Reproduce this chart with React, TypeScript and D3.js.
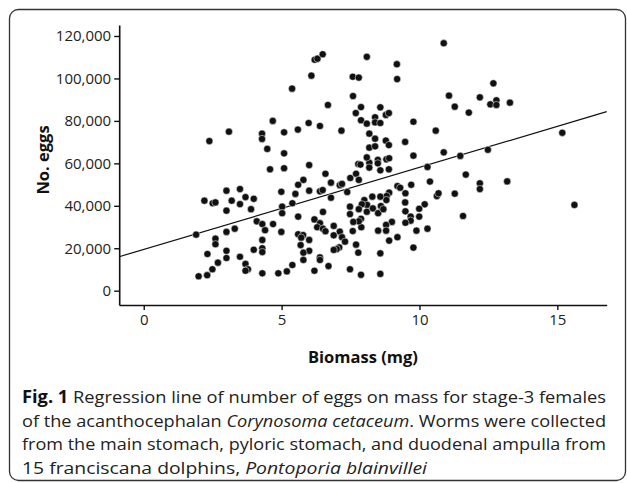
import { useEffect, useRef } from 'react'
import * as d3 from 'd3'

// biomass (mg) of each female
const biomass = [
  2.38, 3.09, 4.29, 4.29, 4.48, 4.68,
  4.58, 2.2, 2.5, 2.6, 3.0, 3.49, 3.19, 3.69, 3.99, 3.0, 3.49, 3.89, 4.1, 4.3, 4.4, 4.69,
  1.9, 3.0, 3.3, 2.6, 2.6, 3.0, 2.31, 2.69, 3.0, 3.49, 3.69, 3.78, 3.69, 2.49, 2.3, 1.99,
  4.3, 4.88, 3.99, 4.3, 4.3, 4.3,
  5.38, 6.08, 6.2, 6.3, 6.49, 6.68, 5.09, 5.59, 5.98, 6.39, 7.17, 7.58, 7.8, 8.09, 7.59,
  7.88, 7.69, 7.88, 8.09, 8.39, 8.39, 8.58, 8.58, 8.78, 8.89, 8.18, 8.39, 8.18, 8.39,
  8.78, 8.89, 9.18, 9.19, 9.78, 9.48, 10.59,
  5.09, 6.0, 5.09, 6.59, 5.79, 5.6, 5.5, 6.0, 4.99, 6.39, 6.49, 6.79, 7.11, 7.19, 7.38,
  6.79, 7.49, 7.7, 7.8, 7.78, 7.86, 8.18, 8.18, 8.09, 8.49, 8.49, 8.8, 8.9, 8.58, 8.89,
  9.78, 10.29, 10.38, 9.7, 9.2, 9.3, 9.49, 10.63, 10.69, 8.9, 8.81, 8.8, 8.58, 8.29, 8.0,
  8.1, 7.91, 7.8, 8.09, 7.48, 7.48, 8.31, 8.5, 8.6, 8.69, 9.48, 9.49, 10.19, 9.99, 9.99,
  9.68, 9.68, 9.49, 9.0, 8.79, 8.5, 8.79, 7.89, 7.88, 7.8, 7.6, 7.58, 9.2, 8.9, 9.89,
  10.29, 9.78, 7.7, 7.78, 8.58, 7.48, 7.88, 8.58, 6.5, 5.6, 6.19, 6.39, 6.29, 6.5, 6.59,
  6.89, 7.11, 6.89, 7.19, 7.3, 7.09, 7.0, 6.89, 6.39, 6.39, 6.7, 6.19, 5.6, 5.78, 5.71,
  6.0, 5.69, 6.0, 5.79, 5.79, 5.39, 5.19, 4.99, 5.02, 5.02, 5.39,
  10.88, 11.07, 11.28, 11.79, 12.19, 12.68, 12.57, 12.79, 12.79, 13.28, 15.18, 10.88,
  11.48, 12.48,
  11.68, 12.19, 12.19, 13.18, 11.28, 11.58, 15.62,
]

// number of eggs, same order as biomass
const eggs = [
  70500, 74900, 74000, 71500, 66800, 80000,
  57200, 42400, 41200, 41600, 47100, 47900, 42400, 44100, 43300, 37700, 40800, 38400, 32700, 31400, 28500, 31400,
  26400, 27700, 29200, 24500, 21900, 18800, 17300, 13200, 15400, 16000, 12600, 10100, 9400, 10100, 7300, 6800,
  8200, 8200, 19300, 23900, 20000, 18200,
  95200, 101300, 108800, 109300, 111400, 87500, 74600, 75900, 79000, 77600, 75400, 100800, 100400, 110200, 91700,
  86500, 83700, 80300, 78700, 81700, 79300, 86400, 79000, 82800, 83700, 74000, 71600, 67400, 68000,
  70700, 68600, 106700, 99700, 79600, 70100, 75400,
  64700, 59200, 57700, 55100, 52200, 49900, 45600, 47100, 46600, 46800, 47400, 50900, 49700, 50300, 46500,
  43800, 53100, 55100, 52200, 59700, 59400, 60300, 58000, 62800, 61600, 60000, 61900, 62400, 56700, 57200,
  63600, 58300, 51400, 49900, 49300, 48500, 45900, 44600, 45900, 46200, 44600, 42700, 44300, 44300, 42700,
  40400, 40700, 38400, 37200, 39600, 36100, 38800, 36500, 39900, 38400, 41600, 37400, 40700, 38600, 34900,
  34900, 33000, 32000, 32400, 31000, 28300, 28300, 29900, 33900, 32700, 32400, 28100, 25200, 23600, 28300,
  29200, 20300, 21700, 17900, 17600, 10100, 7500, 7900, 37100, 34900, 33600, 31800, 29900, 29200, 28000,
  30500, 27800, 26100, 25200, 23100, 20400, 19600, 19200, 15700, 14500, 11600, 9400, 26600, 26200, 25000,
  23900, 21500, 18800, 17900, 14500, 12100, 9100, 27700, 39600, 36500, 41200,
  116600, 91900, 86700, 83900, 91100, 97700, 87800, 89700, 87500, 88600, 74400, 65200,
  63500, 66400,
  54700, 50600, 47900, 51500, 45700, 35200, 40400,
]

const xTicks = [0, 5, 10, 15]
const yTicks = [0, 20000, 40000, 60000, 80000, 100000, 120000]

// fitted regression: eggs = a + b * biomass
const regIntercept = 19450
const regSlope = 3865

const captionLines = [
  [{ t: 'Fig. 1', w: 'bold', s: 'normal' }, { t: ' Regression line of number of eggs on mass for stage-3 females', w: 'normal', s: 'normal' }],
  [{ t: 'of the acanthocephalan ', w: 'normal', s: 'normal' }, { t: 'Corynosoma cetaceum', w: 'normal', s: 'italic' }, { t: '. Worms were collected', w: 'normal', s: 'normal' }],
  [{ t: 'from the main stomach, pyloric stomach, and duodenal ampulla from', w: 'normal', s: 'normal' }],
  [{ t: '15 franciscana dolphins, ', w: 'normal', s: 'normal' }, { t: 'Pontoporia blainvillei', w: 'normal', s: 'italic' }],
]
const captionWidths = [584, 584, 584, 405]

const FONT = '"Open Sans", "DejaVu Sans", sans-serif'

export default function App() {
  const ref = useRef<SVGSVGElement>(null)

  useEffect(() => {
    const W = 627
    const H = 483
    const svg = d3.select(ref.current)
    svg.selectAll('*').remove()
    svg.attr('width', W).attr('height', H).attr('viewBox', `0 0 ${W} ${H}`)

    // panel frame
    svg.append('rect')
      .attr('x', 9.5).attr('y', 9.5).attr('width', 616).attr('height', 471)
      .attr('rx', 9).attr('fill', 'none').attr('stroke', '#333').attr('stroke-width', 1.3)

    const x = d3.scaleLinear().domain([-0.89, 16.79]).range([119.2, 606.7])
    const y = d3.scaleLinear().domain([-6740, 125180]).range([305, 25])

    const xAxis = svg.append('g')
      .attr('transform', `translate(0,${y.range()[0]})`)
      .call(d3.axisBottom(x).tickValues(xTicks).tickSize(5).tickSizeOuter(0).tickPadding(4).tickFormat(d3.format('d')))
    const yAxis = svg.append('g')
      .attr('transform', `translate(${x.range()[0]},0)`)
      .call(d3.axisLeft(y).tickValues(yTicks).tickSize(5).tickSizeOuter(0).tickPadding(3).tickFormat(d3.format(',')))

    ;[xAxis, yAxis].forEach(g => {
      g.select('.domain').attr('stroke', '#111').attr('stroke-width', 1.6)
      g.selectAll('.tick line').attr('stroke', '#111').attr('stroke-width', 1.4)
      g.selectAll('.tick text')
        .attr('fill', '#222')
        .style('font-family', FONT)
        .style('font-size', '15px')
    })

    // axis titles
    svg.append('text')
      .attr('x', x(Number(d3.mean(x.domain())))).attr('y', 363)
      .attr('text-anchor', 'middle')
      .style('font-family', FONT).style('font-size', '16.5px').style('font-weight', 'bold')
      .attr('fill', '#111')
      .text('Biomass (mg)')
    svg.append('text')
      .attr('transform', 'translate(49,160) rotate(-90)')
      .attr('text-anchor', 'middle')
      .style('font-family', FONT).style('font-size', '16.5px').style('font-weight', 'bold')
      .attr('fill', '#111')
      .text('No. eggs')

    // regression line
    const [x0, x1] = x.domain()
    svg.append('line')
      .attr('x1', x(x0)).attr('y1', y(regIntercept + regSlope * x0))
      .attr('x2', x(x1)).attr('y2', y(regIntercept + regSlope * x1))
      .attr('stroke', '#111').attr('stroke-width', 1.2)

    // points
    svg.append('g')
      .selectAll('circle')
      .data(d3.zip(biomass, eggs))
      .join('circle')
      .attr('cx', d => x(d[0]))
      .attr('cy', d => y(d[1]))
      .attr('r', 3.6)
      .attr('fill', '#111')
      .attr('stroke', '#fff')
      .attr('stroke-width', 0.5)

    // caption
    captionLines.forEach((parts, i) => {
      const t = svg.append('text')
        .attr('x', 22).attr('y', 403 + i * 23.6)
        .attr('textLength', captionWidths[i])
        .attr('lengthAdjust', 'spacingAndGlyphs')
        .style('font-family', FONT).style('font-size', '17px')
        .attr('fill', '#222')
      parts.forEach(p => {
        t.append('tspan')
          .style('font-weight', p.w)
          .style('font-style', p.s)
          .attr('fill', p.w === 'bold' ? '#111' : '#222')
          .text(p.t)
      })
    })
  }, [])

  return <svg ref={ref} style={{ position: 'absolute', left: 0, top: 0 }} />
}
